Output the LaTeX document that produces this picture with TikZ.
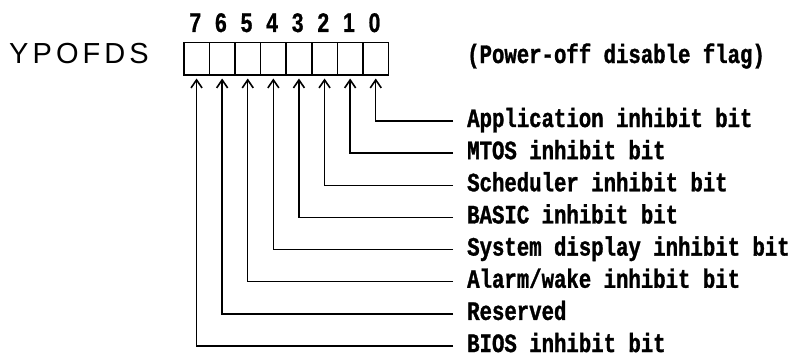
\documentclass[tikz,border=0pt]{standalone}
\usepackage{fontspec}
\usetikzlibrary{arrows.meta}
\newfontfamily\lblfont[FakeStretch=0.78,FakeBold=1.2]{Liberation Mono Bold}
\newfontfamily\digfont[FakeStretch=0.78,FakeBold=0.8]{Liberation Sans Bold}
\newfontfamily\regfont[LetterSpace=14]{Liberation Sans}
\tikzset{
  cell/.style={draw, line width=1.5pt, minimum width=25.6pt, minimum height=32pt, inner sep=0pt, anchor=north west},
  lbl/.style={anchor=base west, inner sep=0pt, font=\lblfont\fontsize{26.5pt}{26.5pt}\selectfont},
  digit/.style={anchor=base, inner sep=0pt, font=\digfont\fontsize{27pt}{27pt}\selectfont},
  regname/.style={anchor=base west, inner sep=0pt, font=\regfont\fontsize{29pt}{29pt}\selectfont},
  conn/.style={line width=1.4pt, -{Straight Barb[length=8pt,width=11pt,line width=1.6pt]}, shorten >=3pt}
}
\begin{document}
\begin{tikzpicture}[x=1pt,y=1pt]
\useasboundingbox (0,0) rectangle (798,357);
\node[regname] (reg) at (9,294) {YPOFDS};
\foreach \i in {0,...,7}{
  \pgfmathsetmacro{\cx}{183+25.6*(7-\i)}
  \node[cell] (c\i) at (\cx,315) {};
  \node[digit] (d\i) at (\cx+12.3,325) {\i};
}
\node[lbl] (flag) at (467,294) {(Power-off disable flag)};
\foreach \i/\t in {0/{Application inhibit bit},1/{MTOS inhibit bit},2/{Scheduler inhibit bit},3/{BASIC inhibit bit},4/{System display inhibit bit},5/{Alarm/wake inhibit bit},6/{Reserved},7/{BIOS inhibit bit}}{
  \pgfmathsetmacro{\ly}{357-121-32.15*\i}
  \coordinate (e\i) at (453,\ly);
  \node[lbl] (l\i) at (467,\ly-6) {\t};
  \draw[conn] (e\i) -| (c\i.south);
}
\end{tikzpicture}
\end{document}
